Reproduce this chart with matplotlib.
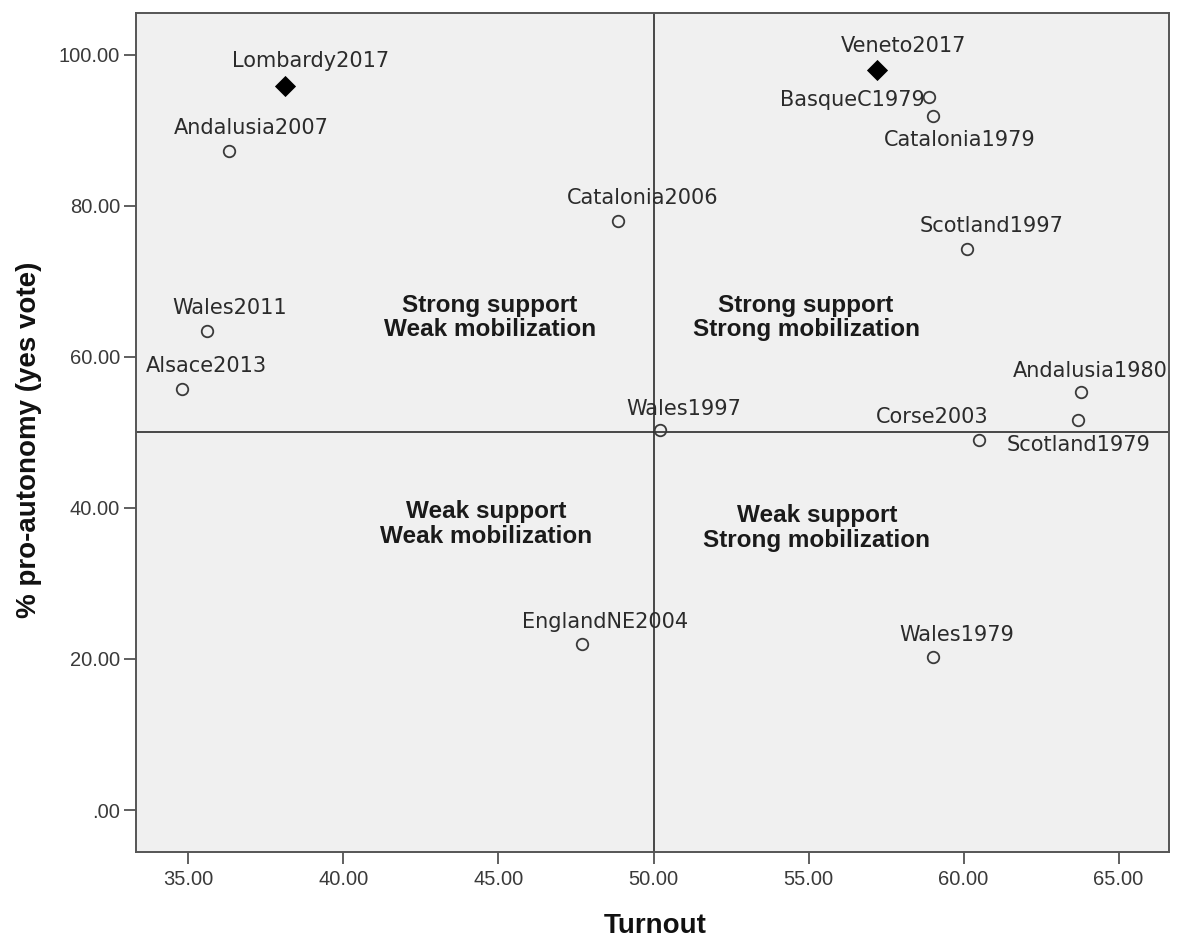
"""
Autonomy referendums: turnout vs. share of yes votes, split into four quadrants.
"""

import matplotlib
matplotlib.use("Agg")
import matplotlib.pyplot as plt

plt.rcParams["font.family"] = ["Liberation Sans", "DejaVu Sans"]

# --- data -------------------------------------------------------------------
names = ["Lombardy2017", "Veneto2017", "Andalusia2007", "Wales2011",
         "Alsace2013", "Catalonia2006", "Wales1997", "BasqueC1979",
         "Catalonia1979", "Scotland1997", "Andalusia1980", "Scotland1979",
         "Corse2003", "EnglandNE2004", "Wales1979"]
turnout = [38.1, 57.2, 36.3, 35.6, 34.8, 48.85, 50.2, 58.9,
           59.0, 60.1, 63.8, 63.7, 60.5, 47.7, 59.0]
yes_vote = [95.9, 98.0, 87.3, 63.4, 55.8, 78.0, 50.3, 94.4,
            91.9, 74.3, 55.4, 51.6, 49.0, 22.0, 20.3]
is_2017 = [True, True, False, False, False, False, False, False,
           False, False, False, False, False, False, False]

x_ticks = [35, 40, 45, 50, 55, 60, 65]
y_ticks = [0, 20, 40, 60, 80, 100]
x_split, y_split = 50, 50

quadrants = ["Strong support\nWeak mobilization",
             "Strong support\nStrong mobilization",
             "Weak support\nWeak mobilization",
             "Weak support\nStrong mobilization"]

# --- layout -----------------------------------------------------------------
quad_pos = [(44.73, 65.2), (54.92, 65.2), (44.6, 37.9), (55.27, 37.35)]

# label offset in pixels (dx, dy) from the point, plus horizontal alignment
label_offsets = {
    "Lombardy2017": (26, 19, "center"),
    "Veneto2017": (27, 18, "center"),
    "Andalusia2007": (23, 17, "center"),
    "Wales2011": (23, 17, "center"),
    "Alsace2013": (24, 17, "center"),
    "Catalonia2006": (25, 17, "center"),
    "Wales1997": (24, 15, "center"),
    "BasqueC1979": (-5, -9, "right"),
    "Catalonia1979": (27, -30, "center"),
    "Scotland1997": (25, 17, "center"),
    "Andalusia1980": (9, 15, "center"),
    "Scotland1979": (0, -31, "center"),
    "Corse2003": (9, 17, "right"),
    "EnglandNE2004": (23, 16, "center"),
    "Wales1979": (24, 16, "center"),
}

fig = plt.figure(figsize=(11.79, 9.41), dpi=100)
ax = fig.add_axes([0.1154, 0.0946, 0.8762, 0.8916])
ax.set_facecolor("#f0f0f0")

ax.axvline(x_split, color="#2a2a2a", linewidth=1.2, zorder=1)
ax.axhline(y_split, color="#2a2a2a", linewidth=1.2, zorder=1)

for name, x, y, recent in zip(names, turnout, yes_vote, is_2017):
    if recent:
        ax.plot(x, y, marker="D", markersize=9.8, color="black",
                markeredgewidth=0.6, linestyle="none", zorder=3)
    else:
        ax.plot(x, y, marker="o", markersize=8.3, markerfacecolor="none",
                markeredgecolor="#3a3a3a", markeredgewidth=1.3,
                linestyle="none", zorder=3)
    dx, dy, ha = label_offsets[name]
    ax.annotate(name, (x, y), xytext=(dx, dy), textcoords="offset pixels",
                ha=ha, va="baseline", fontsize=15, color="#2b2b2b",
                family="DejaVu Sans", zorder=4)

for text, (qx, qy) in zip(quadrants, quad_pos):
    ax.text(qx, qy, text, ha="center", va="center", fontsize=17.5,
            fontweight="bold", color="#1a1a1a", linespacing=1.08)

ax.set_xlim(33.31, 66.63)
ax.set_ylim(-5.56, 105.56)
ax.set_xticks(x_ticks)
ax.set_yticks(y_ticks)
ax.set_xticklabels([f"{v:.2f}" for v in x_ticks])
ax.set_yticklabels([f"{v:.2f}" if v else ".00" for v in y_ticks])

for side in ["left", "right", "top", "bottom"]:
    ax.spines[side].set_color("#555555")
    ax.spines[side].set_linewidth(1.4)
ax.tick_params(axis="both", direction="out", length=8.5, width=1.2,
               color="#444444", labelsize=14.5, labelcolor="#3a3a3a")
ax.tick_params(axis="x", pad=4.5)
ax.tick_params(axis="y", pad=3)

ax.set_xlabel("Turnout", fontsize=20, fontweight="bold", color="#111111")
ax.set_ylabel("% pro-autonomy (yes vote)", fontsize=20, fontweight="bold",
              color="#111111")
ax.xaxis.set_label_coords(0.5024, -0.073)
ax.yaxis.set_label_coords(-0.091, 0.491)

fig.savefig("out.png", dpi=100)
plt.close(fig)
